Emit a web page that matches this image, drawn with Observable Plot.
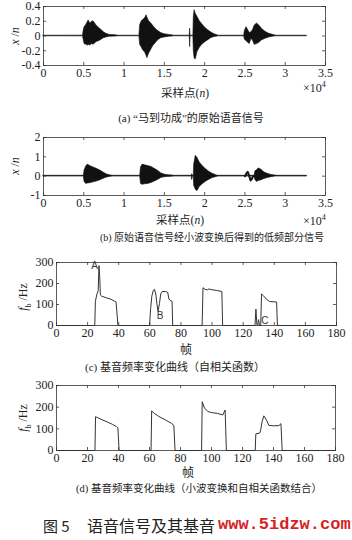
<!DOCTYPE html>
<html><head><meta charset="utf-8">
<script src="https://cdn.jsdelivr.net/npm/d3@7"></script>
<script src="https://cdn.jsdelivr.net/npm/@observablehq/plot@0.6"></script>
<style>
body{margin:0;background:#fff;}
#fig{position:relative;width:352px;height:540px;overflow:hidden;font-family:'Liberation Serif','Noto Sans CJK SC',serif;color:#222;}
.p{position:absolute;left:0;}
.t{position:absolute;white-space:nowrap;transform:translate(-50%,-50%);line-height:1;}
.yl{position:absolute;white-space:nowrap;transform:translate(-50%,-50%) rotate(-90deg);line-height:1;}
.l{position:absolute;white-space:nowrap;transform:translate(0,-50%);line-height:1;}
</style></head><body><div id="fig"></div>
<script>
// ---------- tick values ----------
const xTicksWave = [0, 0.5, 1, 1.5, 2, 2.5, 3, 3.5];
const yTicksA = [-0.4, -0.2, 0, 0.2, 0.4];
const yTicksB = [-1, 0, 1, 2];
const xTicksFrame = [0, 20, 40, 60, 80, 100, 120, 140, 160, 180];
const yTicksPitch = [0, 100, 200, 300];

// ---------- (a) original speech: envelope (sample index ×10^4) ----------
const waveA_n  = [0, 0.49, 0.50, 0.51, 0.53, 0.55, 0.56, 0.58, 0.60, 0.62, 0.64, 0.66, 0.69, 0.72, 0.75, 0.78, 0.82, 0.90, 0.93,
                  1.19, 1.20, 1.22, 1.24, 1.26, 1.28, 1.29, 1.31, 1.33, 1.36, 1.39, 1.42, 1.46, 1.50, 1.56, 1.61, 1.62,
                  1.815, 1.82, 1.825, 1.86, 1.865, 1.875, 1.89, 1.91, 1.94, 1.97, 2.00, 2.04, 2.08, 2.12, 2.16, 2.17,
                  2.49, 2.50, 2.52, 2.54, 2.56, 2.58, 2.60, 2.62, 2.65, 2.68, 2.71, 2.75, 2.80, 2.86, 2.89, 3.27];
const waveA_hi = [0.004, 0.005, 0.08, 0.12, 0.15, 0.19, 0.21, 0.17, 0.19, 0.20, 0.17, 0.14, 0.11, 0.08, 0.05, 0.03, 0.015, 0.01, 0.004,
                  0.004, 0.15, 0.20, 0.22, 0.24, 0.28, 0.25, 0.20, 0.18, 0.14, 0.10, 0.07, 0.04, 0.025, 0.015, 0.008, 0.004,
                  0.004, 0.10, 0.004, 0.004, 0.25, 0.35, 0.30, 0.26, 0.20, 0.16, 0.12, 0.08, 0.05, 0.025, 0.01, 0.004,
                  0.004, 0.07, 0.12, 0.08, 0.04, 0.05, 0.08, 0.14, 0.17, 0.14, 0.10, 0.06, 0.03, 0.012, 0.004, 0.004];
const waveA_lo = [-0.004, -0.005, -0.06, -0.11, -0.12, -0.13, -0.12, -0.13, -0.11, -0.12, -0.10, -0.08, -0.07, -0.05, -0.03, -0.02, -0.01, -0.008, -0.004,
                  -0.004, -0.12, -0.16, -0.20, -0.22, -0.27, -0.30, -0.24, -0.20, -0.14, -0.10, -0.06, -0.03, -0.02, -0.01, -0.006, -0.004,
                  -0.004, -0.15, -0.004, -0.004, -0.20, -0.30, -0.32, -0.22, -0.16, -0.12, -0.09, -0.06, -0.03, -0.015, -0.008, -0.004,
                  -0.004, -0.05, -0.07, -0.09, -0.11, -0.04, -0.06, -0.12, -0.11, -0.09, -0.06, -0.04, -0.02, -0.008, -0.004, -0.004];

// ---------- (b) low-frequency part after wavelet transform ----------
const waveB_n  = [0, 0.50, 0.51, 0.53, 0.55, 0.58, 0.62, 0.66, 0.70, 0.74, 0.78, 0.82, 0.86,
                  1.20, 1.21, 1.23, 1.26, 1.30, 1.34, 1.38, 1.42, 1.46, 1.50, 1.55, 1.60, 1.62,
                  1.84, 1.845, 1.855, 1.865, 1.87, 1.89, 1.91, 1.94, 1.98, 2.02, 2.06, 2.10, 2.15, 2.17,
                  2.62, 2.63, 2.65, 2.67, 2.70, 2.74, 2.78, 2.83, 2.88, 2.90, 3.27];
const waveB_hi = [0.02, 0.02, 0.30, 0.50, 0.60, 0.52, 0.45, 0.38, 0.30, 0.20, 0.10, 0.05, 0.02,
                  0.02, 0.45, 0.60, 0.56, 0.52, 0.48, 0.38, 0.28, 0.15, 0.08, 0.05, 0.04, 0.02,
                  0.02, 0.10, 0.02, 0.02, 0.60, 1.05, 0.95, 0.70, 0.50, 0.35, 0.22, 0.12, 0.04, 0.02,
                  0.02, 0.25, 0.30, 0.40, 0.35, 0.20, 0.12, 0.06, 0.03, 0.02, 0.02];
const waveB_lo = [-0.02, -0.02, -0.30, -0.40, -0.38, -0.36, -0.32, -0.28, -0.22, -0.15, -0.08, -0.04, -0.02,
                  -0.02, -0.40, -0.45, -0.42, -0.40, -0.35, -0.28, -0.20, -0.10, -0.06, -0.04, -0.03, -0.02,
                  -0.02, -0.20, -0.02, -0.02, -0.50, -0.70, -0.78, -0.55, -0.40, -0.28, -0.18, -0.10, -0.04, -0.02,
                  -0.02, -0.20, -0.30, -0.25, -0.22, -0.15, -0.10, -0.05, -0.02, -0.02, -0.02];
const wiggleB_n = [2.50, 2.52, 2.535, 2.55, 2.57, 2.585, 2.60, 2.62];
const wiggleB_v = [0, 0.15, 0.22, 0.05, -0.22, -0.15, 0, 0];

// ---------- (c) pitch (autocorrelation) ----------
const pitchC_frame = [0, 24.6, 25, 26, 26.8, 27.3, 27.8, 28.2, 29, 32, 35, 37.5, 38.3, 39.5,
                      59.8, 60.5, 61.3, 62.3, 63, 63.8, 64.6, 65.3, 66.2, 67, 68, 70, 71.5, 72.3, 73.5, 74.3, 74.7,
                      93.6, 94.2, 95.5, 97, 98, 100, 103, 106.3, 106.8,
                      127.6, 128.2, 128.8, 129.3, 129.9, 130.5, 131.3, 131.8, 133, 135, 137, 141.5, 142, 180];
const pitchC_hz    = [0, 0, 115, 150, 165, 285, 230, 145, 140, 132, 125, 115, 112, 0,
                      0, 80, 140, 168, 172, 150, 100, 68, 105, 150, 162, 162, 158, 125, 118, 115, 0,
                      0, 180, 172, 170, 174, 170, 167, 162, 0,
                      0, 78, 5, 0, 28, 0, 0, 150, 142, 125, 114, 112, 0, 0];
const markC_text  = ["A", "B", "C"];
const markC_frame = [24.5, 66.6, 134];
const markC_hz    = [285, 45, 22];

// ---------- (d) pitch (wavelet + autocorrelation) ----------
const pitchD_frame = [0, 24.8, 25.2, 27, 30, 33, 36, 38.8, 39.6, 40.4,
                      61, 61.4, 63, 66, 70, 74, 75.7, 76.5,
                      93.6, 94, 95.5, 97.6, 100, 104, 107.3, 108.8, 109.6,
                      128.2, 128.6, 131, 131.6, 132.7, 133.8, 135.5, 137, 140, 143.5, 144.8, 145.6, 180];
const pitchD_hz    = [0, 0, 156, 150, 140, 131, 121, 110, 105, 0,
                      0, 183, 172, 157, 142, 126, 116, 0,
                      0, 225, 196, 180, 175, 171, 164, 187, 0,
                      0, 77, 80, 90, 135, 160, 140, 116, 114, 115, 124, 0, 0];

// ---------- build ----------
const fig = document.getElementById("fig");
const FONT = "'Liberation Serif','Noto Sans CJK SC',serif";
const INK = "#333";

function panel(o) {
  const fh = o.height - o.mt - o.mb, fw = 352 - o.ml - o.mr, tl = 3;
  const tk = {stroke: INK, strokeWidth: 0.8};
  const svg = Plot.plot({
    width: 352, height: o.height,
    marginTop: o.mt, marginBottom: o.mb, marginLeft: o.ml, marginRight: o.mr,
    style: `font-family:${FONT};font-size:12px;background:transparent;color:#222;overflow:visible;`,
    x: {domain: o.xDomain, ticks: o.xTicks, tickSize: 0, tickPadding: 3, tickFormat: d => String(d), label: null},
    y: {domain: o.yDomain, ticks: o.yTicks, tickSize: 0, tickPadding: 3, tickFormat: d => String(d), label: null},
    marks: [
      ...o.marks,
      Plot.frame({stroke: INK, strokeWidth: 0.8}),
      Plot.tickX(o.xTicks, {x: d => d, insetTop: fh - tl, ...tk}),
      Plot.tickX(o.xTicks, {x: d => d, insetBottom: fh - tl, ...tk}),
      Plot.tickY(o.yTicks, {y: d => d, insetRight: fw - tl, ...tk}),
      Plot.tickY(o.yTicks, {y: d => d, insetLeft: fw - tl, ...tk})
    ]
  });
  svg.classList.add("p");
  svg.style.top = o.top + "px";
  fig.appendChild(svg);
}
function txt(html, x, y, cls, css) {
  const d = document.createElement("div");
  d.className = cls; d.innerHTML = html;
  d.style.left = x + "px"; d.style.top = y + "px";
  if (css) d.style.cssText += css;
  fig.appendChild(d);
}

const waveA = waveA_n.map((n, i) => ({n, hi: waveA_hi[i], lo: waveA_lo[i]}));
const waveB = waveB_n.map((n, i) => ({n, hi: waveB_hi[i], lo: waveB_lo[i]}));
const wigB = wiggleB_n.map((n, i) => ({n, v: wiggleB_v[i]}));
const pC = pitchC_frame.map((f, i) => ({f, hz: pitchC_hz[i]}));
const mC = markC_text.map((t, i) => ({t, f: markC_frame[i], hz: markC_hz[i]}));
const pD = pitchD_frame.map((f, i) => ({f, hz: pitchD_hz[i]}));

panel({top: 0, height: 84, mt: 6, mb: 19, ml: 43, mr: 27, xDomain: [0, 3.5], yDomain: [-0.4, 0.4],
  xTicks: xTicksWave, yTicks: yTicksA,
  marks: [Plot.areaY(waveA, {x: "n", y1: "lo", y2: "hi", fill: "#111", stroke: "#111", strokeWidth: 0.6})]});
panel({top: 131, height: 83, mt: 6, mb: 19, ml: 43, mr: 27, xDomain: [0, 3.5], yDomain: [-1, 2],
  xTicks: xTicksWave, yTicks: yTicksB,
  marks: [Plot.areaY(waveB, {x: "n", y1: "lo", y2: "hi", fill: "#111", stroke: "#111", strokeWidth: 0.6}),
          Plot.line(wigB, {x: "n", y: "v", stroke: "#111", strokeWidth: 2})]});
panel({top: 256, height: 88, mt: 6, mb: 19, ml: 56, mr: 16, xDomain: [0, 180], yDomain: [0, 300],
  xTicks: xTicksFrame, yTicks: yTicksPitch,
  marks: [Plot.line(pC, {x: "f", y: "hz", stroke: "#333", strokeWidth: 1}),
          Plot.text(mC, {x: "f", y: "hz", text: "t", fontFamily: "'Liberation Sans',sans-serif", fontSize: 10, fill: "#333"})]});
panel({top: 379, height: 90, mt: 6, mb: 19, ml: 56, mr: 17, xDomain: [0, 180], yDomain: [0, 300],
  xTicks: xTicksFrame, yTicks: yTicksPitch,
  marks: [Plot.line(pD, {x: "f", y: "hz", stroke: "#333", strokeWidth: 1})]});

// labels
txt("<i>x</i> /<i>n</i>", 15, 36, "yl", "font-size:12px;");
txt("×10<sup style='font-size:8px'>4</sup>", 303, 87, "l", "font-size:12px;");
txt("采样点(<i>n</i>)", 185, 94, "t", "font-size:11.5px;");
txt("(a) “马到功成”的原始语音信号", 191, 118, "t", "font-size:11px;");

txt("<i>x</i> /<i>n</i>", 15, 166, "yl", "font-size:12px;");
txt("×10<sup style='font-size:8px'>4</sup>", 303, 220, "l", "font-size:12px;");
txt("采样点(<i>n</i>)", 180, 221, "t", "font-size:11.5px;");
txt("(b) 原始语音信号经小波变换后得到的低频部分信号", 212, 238, "t", "font-size:10px;");

txt("<i>f</i><sub style='font-size:8px'>b</sub> /Hz", 25, 297, "yl", "font-size:12px;");
txt("帧", 186, 350, "t", "font-size:12px;");
txt("(c) 基音频率变化曲线（自相关函数）", 175, 367, "t", "font-size:11px;");

txt("<i>f</i><sub style='font-size:8px'>b</sub> /Hz", 25, 418, "yl", "font-size:12px;");
txt("帧", 188, 473, "t", "font-size:12px;");
txt("(d) 基音频率变化曲线（小波变换和自相关函数结合）", 199, 489, "t", "font-size:10.5px;");

txt("图 5", 43, 525, "l", "font-size:15px;font-family:'Noto Sans CJK SC',sans-serif;");
txt("语音信号及其基音", 87, 525, "l", "font-size:16px;font-family:'Noto Sans CJK SC',sans-serif;");
txt("www.5idzw.com", 218, 524, "l", "font-size:17px;font-weight:bold;font-family:'Liberation Mono',monospace;color:#d61f1f;");
</script></body></html>
